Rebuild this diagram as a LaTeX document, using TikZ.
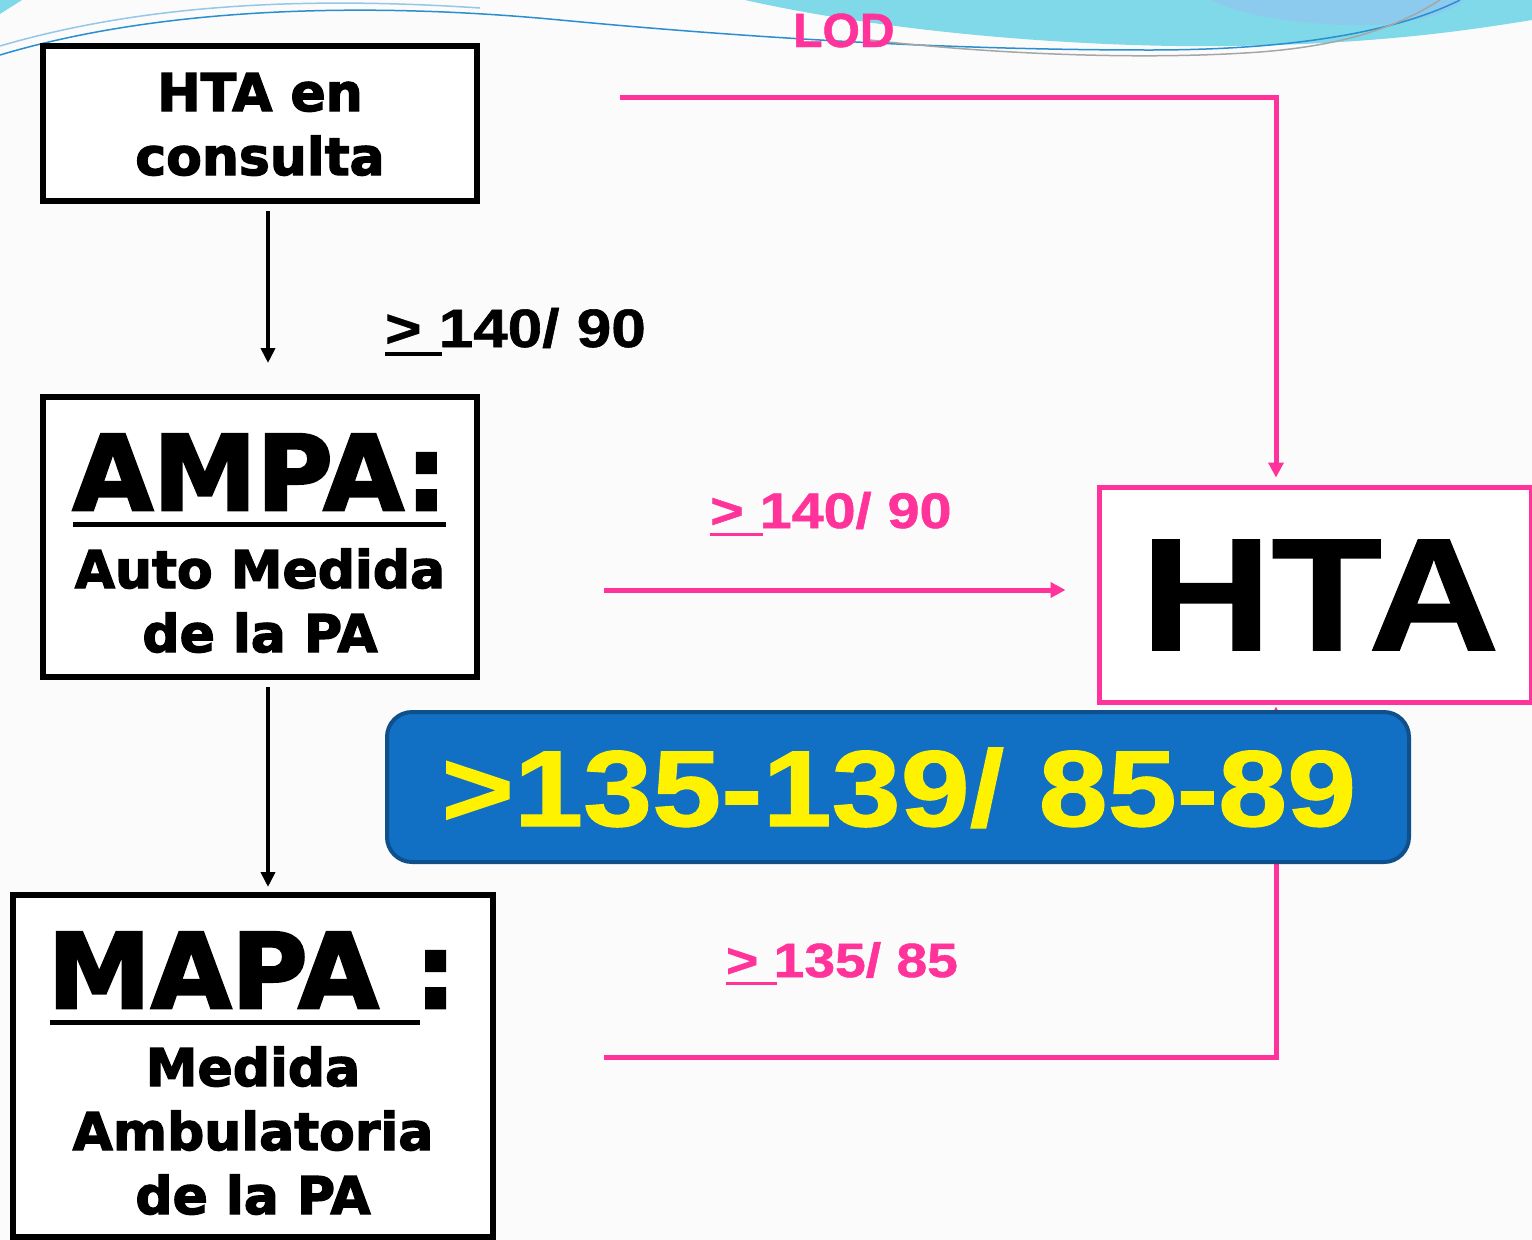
\documentclass[tikz,border=0pt]{standalone}
\usepackage{fontspec}
\usepackage{graphicx}
\setmainfont{Liberation Sans}[BoldFeatures={FakeBold=1}]
\newfontfamily\heavy{DejaVu Sans}[BoldFeatures={FakeBold=2.5}]
\usetikzlibrary{arrows.meta,positioning,calc}
\definecolor{lodpink}{HTML}{FF3399}
\definecolor{boxblue}{HTML}{1170C4}
\definecolor{boxedge}{HTML}{0E4F8C}
\definecolor{wave}{HTML}{80D9E8}
\definecolor{wavedeep}{HTML}{8CCBEE}
\definecolor{waveline}{HTML}{2A8FD0}
\newcommand{\sz}[2]{\fontsize{#1}{#2}\selectfont}
\newcommand{\wide}[1]{\scalebox{1.15}[1]{#1}}
\newcommand{\gtul}{\rlap{\rule[-0.16em]{0.92em}{0.06em}}>\ }

\begin{document}
\begin{tikzpicture}[x=1pt,y=-1pt,
  blackbox/.style={draw=black,line width=6pt,fill=white,inner sep=0pt},
  boxtext/.style={font=\heavy\bfseries\sz{52}{64},align=center,inner sep=0pt},
  blackarr/.style={line width=4pt,-{Triangle[length=15pt,width=14pt]}},
  pinkarr/.style={draw=lodpink,line width=5pt,-{Triangle[length=15pt,width=15pt]}},
  pinklbl/.style={text=lodpink,font=\bfseries\sz{50}{50},anchor=base west,inner sep=0pt}]
  \useasboundingbox (0,0) rectangle (1532,1240);
  \fill[white!97!gray] (0,0) rectangle (1532,1240);
  \fill[wave] (745,0) .. controls (900,35) and (1100,48) .. (1230,46) .. controls (1380,44) and (1470,30) .. (1532,20) -- (1532,0) -- cycle;
  \fill[wavedeep] (1210,0) .. controls (1250,20) and (1330,27) .. (1380,25) .. controls (1420,22) and (1450,12) .. (1465,0) -- cycle;
  \fill[wave] (0,0) -- (22,0) -- (0,14) -- cycle;
  \draw[waveline,line width=1.5pt] (0,55) .. controls (150,10) and (350,0) .. (560,20) .. controls (750,38) and (950,50) .. (1150,50) .. controls (1300,50) and (1400,30) .. (1460,0);
  \draw[waveline!50,line width=1.5pt] (0,46) .. controls (140,5) and (300,-4) .. (480,8);
  \draw[gray!70,line width=1.5pt] (870,40) .. controls (1000,55) and (1150,60) .. (1260,52) .. controls (1350,45) and (1400,25) .. (1440,0);

  \node[text=lodpink,font=\bfseries\sz{48}{48},anchor=base west,inner sep=0pt] (lod) at (793,47) {LOD};

  \node[blackbox,minimum width=434pt,minimum height=155pt] (consulta) at (260,123.5) {};
  \node[boxtext,anchor=base] (consultaT) at (260,175) {HTA en\\consulta};

  \node[blackbox,minimum width=434pt,minimum height=280pt] (ampa) at (260,537) {};
  \node[boxtext,font=\heavy\bfseries\sz{104}{104},anchor=base] (ampaT) at (260,510) {AMPA:};
  \draw[line width=5pt] (73,524) -- (446,524);
  \node[boxtext,anchor=base] (ampaS) at (260,652) {Auto Medida\\de la PA};

  \node[blackbox,minimum width=480pt,minimum height=342pt] (mapa) at (253,1066) {};
  \node[boxtext,font=\heavy\bfseries\sz{104}{104},anchor=base] (mapaT) at (252,1008) {MAPA :};
  \draw[line width=5pt] (50,1022) -- (420,1022);
  \node[boxtext,anchor=base] (mapaS) at (253,1214) {Medida\\Ambulatoria\\de la PA};

  \node[draw=lodpink,line width=5pt,fill=white,minimum width=432pt,minimum height=215pt] (hta) at (1315,594.5) {};
  \node[font=\bfseries\sz{160}{160},anchor=base,inner sep=0pt] (htaT) at (1320,650) {\scalebox{1.13}[1]{HTA}};

  \coordinate (lodstart) at (620,97);
  \coordinate (ampastart) at (604,590);
  \coordinate (mapastart) at (604,1057);

  \draw[blackarr,shorten <=7pt,shorten >=31pt] ([xshift=8pt]consulta.south) -- ([xshift=8pt]consulta.south |- ampa.north);
  \draw[blackarr,shorten <=7pt,shorten >=5pt] ([xshift=8pt]ampa.south) -- ([xshift=8pt]ampa.south |- mapa.north);
  \draw[pinkarr,shorten >=7pt] (lodstart) -| ([xshift=-39pt]hta.north);
  \draw[pinkarr,shorten >=31pt] (ampastart) -- (ampastart -| hta.west);
  \draw[pinkarr,shorten >=2pt] (mapastart) -| ([xshift=-39pt]hta.south);

  \node[font=\bfseries\sz{54}{54},anchor=base west,inner sep=0pt] (lblconsulta) at (385,347) {\wide{\gtul 140/ 90}};
  \node[pinklbl] (lblampa) at (710,528) {\wide{\gtul 140/ 90}};
  \node[pinklbl,font=\bfseries\sz{48}{48}] (lblmapa) at (726,977) {\wide{\gtul 135/ 85}};

  \node[rounded corners=25pt,fill=boxblue,draw=boxedge,line width=4pt,minimum width=1022pt,minimum height=150pt] (range) at (898,787) {};
  \node[text=yellow,font=\bfseries\sz{108}{108},anchor=base,inner sep=0pt] (rangeT) at (899,826) {\wide{>135-139/ 85-89}};
\end{tikzpicture}
\end{document}
